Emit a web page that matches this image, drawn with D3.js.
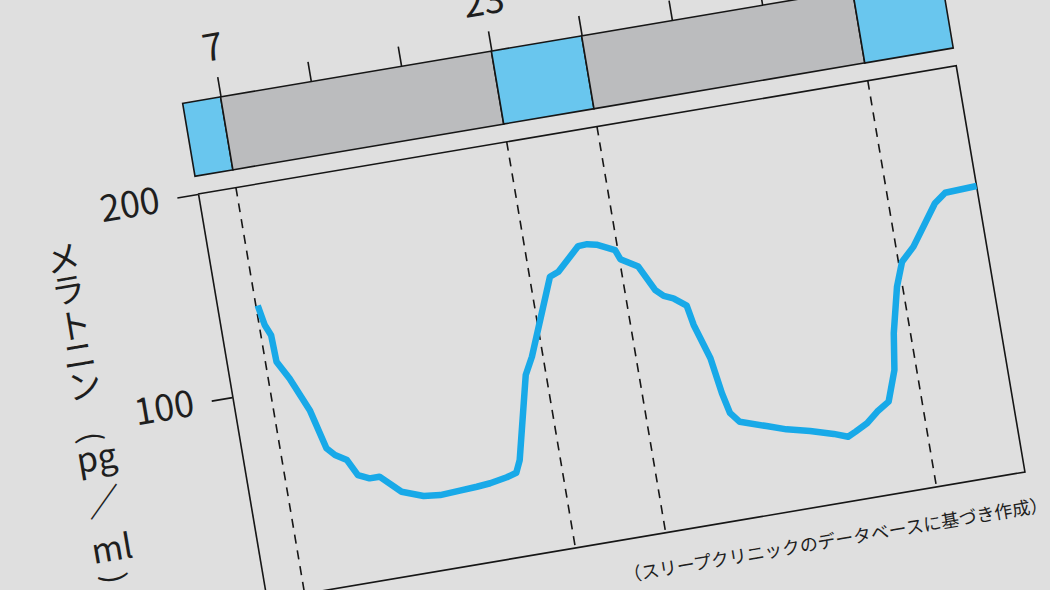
<!DOCTYPE html>
<html lang="ja">
<head>
<meta charset="UTF-8">
<title>メラトニン分泌の日内変動</title>
<script src="https://d3js.org/d3.v7.min.js"></script>
<style>
  body { margin: 0; background: #dfdfdf; overflow: hidden; }
  svg { display: block; font-family: "Noto Sans CJK JP", "Noto Sans", sans-serif; }
</style>
</head>
<body>
<script>
// time is counted in tick steps (one step = distance between two ticks on the top bar)
const tickSteps = [0, 1, 2, 3, 4, 5, 6, 7, 8];
const tickLabels = ["7", "", "", "23", "", "", "", "", ""];

// sleep (blue) / wake (gray) bands on the top bar
const bandFrom = [-0.42, 0, 3, 4, 7];
const bandTo = [0, 3, 4, 7, 7.98];
const bandKind = ["night", "day", "night", "day", "night"];

// dashed guides at the band borders
const guideSteps = [0, 3, 4, 7];

const yTicks = [100, 200];

// melatonin (pg/ml)
const timeSteps = [0.02, 0.06, 0.11, 0.12, 0.23, 0.39, 0.50, 0.58, 0.70, 0.79, 0.91, 1.02, 1.23, 1.46,
  1.64, 1.86, 2.05, 2.20, 2.39, 2.50, 2.56, 2.78, 2.88, 3.22, 3.32, 3.58, 3.68, 3.78, 3.97, 4.01,
  4.19, 4.33, 4.41, 4.51, 4.64, 4.68, 4.80, 4.86, 4.91, 5.00, 5.28, 5.49, 5.74, 5.99, 6.14, 6.23,
  6.37, 6.50, 6.64, 6.76, 6.82, 6.94, 7.04, 7.19, 7.50, 7.63, 7.98];
const melatonin = [141.8, 131.9, 126.5, 113.4, 104.3, 87.5, 67.9, 64.0, 60.6, 52.5, 50.0, 50.0, 41.0, 37.2,
  36.3, 36.8, 37.3, 37.9, 39.4, 40.8, 46.6, 86.8, 95.1, 131.9, 133.6, 144.3, 144.5, 143.5, 139.4, 134.6,
  129.6, 117.0, 113.5, 111.6, 107.0, 97.2, 79.9, 62.2, 52.2, 47.1, 42.9, 39.7, 37.0, 33.7, 31.2, 33.0,
  36.1, 40.9, 44.7, 59.4, 77.0, 99.1, 110.6, 116.9, 135.9, 140.1, 140.8];

const yTitle = ["メ", "ラ", "ト", "ニ", "ン", "(", "pg", "／", "ml", ")"];
const source = "（スリープクリニックのデータベースに基づき作成）";

const width = 1050, height = 590;
const plotW = 769, plotH = 412;
const ink = "#161616";

const svg = d3.select("body").append("svg")
  .attr("width", width)
  .attr("height", height);

svg.append("rect").attr("width", width).attr("height", height).attr("fill", "#dfdfdf");

// whole figure is tilted
const g = svg.append("g").attr("transform", "translate(198,194) rotate(-9.6)");

const x = d3.scaleLinear().domain([-0.42, 7.98]).range([0, plotW]);
const y = d3.scaleLinear().domain([0, 200]).range([plotH, 0]);

// top bar
const barTop = -92, barBottom = -18;
g.selectAll("rect.band")
  .data(bandFrom.map((f, i) => ({ from: f, to: bandTo[i], kind: bandKind[i] })))
  .join("rect")
  .attr("class", "band")
  .attr("x", d => x(d.from))
  .attr("width", d => x(d.to) - x(d.from))
  .attr("y", barTop)
  .attr("height", barBottom - barTop)
  .attr("fill", d => d.kind === "night" ? "#69c6ee" : "#bbbcbe")
  .attr("stroke", ink)
  .attr("stroke-width", 1.6);

const topAxis = d3.axisTop(x)
  .tickValues(tickSteps)
  .tickFormat((d, i) => tickLabels[i])
  .tickSize(20)
  .tickSizeOuter(0)
  .tickPadding(17);

g.append("g")
  .attr("transform", `translate(0,${barTop})`)
  .call(topAxis)
  .attr("font-family", null)
  .attr("font-size", 37)
  .call(a => a.select(".domain").remove())
  .call(a => a.selectAll("line").attr("stroke", ink).attr("stroke-width", 1.6))
  .call(a => a.selectAll("text").attr("fill", "#1e1e1e").filter(function () { return this.textContent === ""; }).remove());

// dashed guides
g.selectAll("line.guide")
  .data(guideSteps)
  .join("line")
  .attr("class", "guide")
  .attr("x1", d => x(d)).attr("x2", d => x(d))
  .attr("y1", 0).attr("y2", plotH)
  .attr("stroke", ink)
  .attr("stroke-width", 1.6)
  .attr("stroke-dasharray", "9,7");

// plot frame (left side comes from the axis)
g.append("path")
  .attr("d", `M0,0H${plotW}V${plotH}H0`)
  .attr("fill", "none")
  .attr("stroke", ink)
  .attr("stroke-width", 1.6);

const leftAxis = d3.axisLeft(y)
  .tickValues(yTicks)
  .tickSize(21)
  .tickSizeOuter(0)
  .tickPadding(18);

g.append("g")
  .call(leftAxis)
  .attr("font-family", null)
  .attr("font-size", 36)
  .call(a => a.select(".domain").attr("stroke", ink).attr("stroke-width", 1.6))
  .call(a => a.selectAll("line").attr("stroke", ink).attr("stroke-width", 1.6))
  .call(a => a.selectAll("text").attr("fill", "#1e1e1e"));

// melatonin curve
g.append("path")
  .datum(timeSteps.map((t, i) => [t, melatonin[i]]))
  .attr("d", d3.line().x(d => x(d[0])).y(d => y(d[1])))
  .attr("fill", "none")
  .attr("stroke", "#18a9e8")
  .attr("stroke-width", 6.5)
  .attr("stroke-linejoin", "round");

// vertical axis title, set one piece at a time
const titleV = [39, 71, 107, 137, 168, 222, 241, 286, 333, 365];
g.selectAll("text.ytitle")
  .data(yTitle)
  .join("text")
  .attr("class", "ytitle")
  .attr("text-anchor", "middle")
  .attr("dominant-baseline", "central")
  .attr("font-size", d => (d === "(" || d === ")") ? 30 : 34)
  .attr("fill", "#1e1e1e")
  .attr("transform", (d, i) => `translate(-144,${titleV[i]})` + ((d === "(" || d === ")") ? " rotate(90)" : ""))
  .text(d => d);

// source note
g.append("text")
  .attr("x", 786)
  .attr("y", 454)
  .attr("text-anchor", "end")
  .attr("font-size", 18)
  .attr("fill", "#1e1e1e")
  .text(source);
</script>
</body>
</html>
